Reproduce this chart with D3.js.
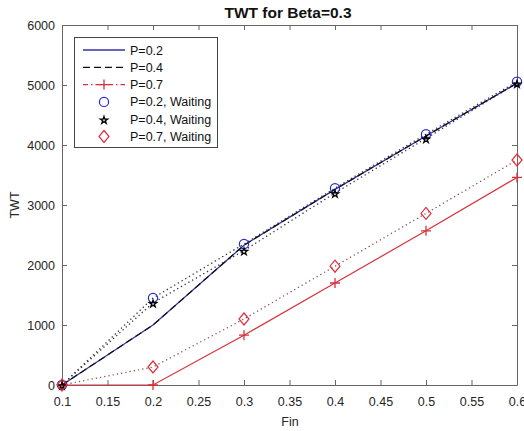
<!DOCTYPE html>
<html>
<head>
<meta charset="utf-8">
<script src="https://cdn.jsdelivr.net/npm/d3@7"></script>
<style>
body { margin: 0; background: #fff; }
text { font-family: "Liberation Sans", Arial, sans-serif; }
</style>
</head>
<body>
<svg></svg>
<script>
let fin = [0.1, 0.2, 0.3, 0.4, 0.5, 0.6]
let p02 = [0, 1000, 2330, 3260, 4150, 5030]
let p04 = [0, 1000, 2330, 3260, 4150, 5030]
let p07 = [0, 0, 830, 1700, 2570, 3460]
let p02wait = [0, 1450, 2350, 3280, 4180, 5055]
let p04wait = [0, 1370, 2240, 3200, 4110, 5030]
let p07wait = [0, 300, 1100, 1980, 2860, 3750]
let xTicks = [0.1, 0.15, 0.2, 0.25, 0.3, 0.35, 0.4, 0.45, 0.5, 0.55, 0.6]
let yTicks = [0, 1000, 2000, 3000, 4000, 5000, 6000]

let width = 524
let height = 431
let padLeft = 62, padRight = 517, padTop = 25, padBottom = 385

let svg = d3.select('svg').attr('width', width).attr('height', height)

let xScale = d3.scaleLinear().domain([0.1, 0.6]).range([padLeft, padRight])
let yScale = d3.scaleLinear().domain([0, 6000]).range([padBottom, padTop])

let axisColor = '#666'

// axes (box with inward ticks)
let fmtX = d => String(+d.toFixed(2))
let xAxis = d3.axisBottom(xScale).tickValues(xTicks).tickSizeInner(-5).tickSizeOuter(0).tickPadding(12).tickFormat(fmtX)
let xAxisTop = d3.axisTop(xScale).tickValues(xTicks).tickSizeInner(-5).tickSizeOuter(0).tickFormat('')
let yAxis = d3.axisLeft(yScale).tickValues(yTicks).tickSizeInner(-5).tickSizeOuter(0).tickPadding(7).tickFormat(d3.format('d'))
let yAxisRight = d3.axisRight(yScale).tickValues(yTicks).tickSizeInner(-5).tickSizeOuter(0).tickFormat('')

let styleAxis = g => {
    g.selectAll('path, line').attr('stroke', axisColor)
    g.selectAll('text').attr('fill', '#262626').style('font-size', '12.5px')
}
svg.append('g').attr('transform', 'translate(0,' + padBottom + ')').call(xAxis).call(styleAxis)
svg.append('g').attr('transform', 'translate(0,' + padTop + ')').call(xAxisTop).call(styleAxis)
svg.append('g').attr('transform', 'translate(' + padLeft + ',0)').call(yAxis).call(styleAxis)
svg.append('g').attr('transform', 'translate(' + padRight + ',0)').call(yAxisRight).call(styleAxis)

let line = d3.line().x((d, i) => xScale(fin[i])).y(d => yScale(d))

let plot = svg.append('g')

// dotted helper lines for waiting series
plot.append('path').attr('d', line(p02wait)).attr('fill', 'none').attr('stroke', '#333').attr('stroke-width', 1.3).attr('stroke-dasharray', '1.3,3')
plot.append('path').attr('d', line(p04wait)).attr('fill', 'none').attr('stroke', '#333').attr('stroke-width', 1.3).attr('stroke-dasharray', '1.3,3')
plot.append('path').attr('d', line(p07wait)).attr('fill', 'none').attr('stroke', '#8a4a4a').attr('stroke-width', 1.2).attr('stroke-dasharray', '1.3,3')

// main lines
plot.append('path').attr('d', line(p02)).attr('fill', 'none').attr('stroke', '#3333aa').attr('stroke-width', 1.3)
plot.append('path').attr('d', line(p04)).attr('fill', 'none').attr('stroke', '#111').attr('stroke-width', 1.2).attr('stroke-dasharray', '7,4')
plot.append('path').attr('d', line(p07)).attr('fill', 'none').attr('stroke', '#d8303a').attr('stroke-width', 1.2)

// markers
let drawPlus = (g, x, y, c) => {
    g.append('path').attr('d', 'M' + (x - 5) + ',' + y + 'H' + (x + 5) + 'M' + x + ',' + (y - 5) + 'V' + (y + 5))
        .attr('stroke', c).attr('stroke-width', 1.3).attr('fill', 'none')
}
let drawCircle = (g, x, y) => {
    g.append('circle').attr('cx', x).attr('cy', y).attr('r', 4.6).attr('fill', 'none').attr('stroke', '#2a2ac8').attr('stroke-width', 1.2)
}
let drawStar = (g, x, y) => {
    g.append('path').attr('d', d3.symbol().type(d3.symbolStar).size(16)()).attr('transform', 'translate(' + x + ',' + (y + 1) + ')')
        .attr('fill', 'none').attr('stroke', '#000').attr('stroke-width', 1.3)
}
let drawDiamond = (g, x, y) => {
    g.append('path').attr('d', 'M' + x + ',' + (y - 6) + 'L' + (x + 5) + ',' + y + 'L' + x + ',' + (y + 6) + 'L' + (x - 5) + ',' + y + 'Z')
        .attr('fill', 'none').attr('stroke', '#e03040').attr('stroke-width', 1.2)
}

p07.forEach((d, i) => drawPlus(plot, xScale(fin[i]), yScale(d), '#d8303a'))
p02wait.forEach((d, i) => drawCircle(plot, xScale(fin[i]), yScale(d)))
p04wait.forEach((d, i) => drawStar(plot, xScale(fin[i]), yScale(d)))
p07wait.forEach((d, i) => drawDiamond(plot, xScale(fin[i]), yScale(d)))

// title and labels
svg.append('text').attr('x', 288).attr('y', 18).attr('text-anchor', 'middle')
    .style('font-size', '15.5px').style('font-weight', 'bold').attr('fill', '#111').text('TWT for Beta=0.3')
svg.append('text').attr('x', 290).attr('y', 426).attr('text-anchor', 'middle')
    .style('font-size', '12.5px').attr('fill', '#262626').text('Fin')
svg.append('text').attr('transform', 'translate(19,' + 205 + ') rotate(-90)').attr('text-anchor', 'middle')
    .style('font-size', '12.5px').attr('fill', '#262626').text('TWT')

// legend
let legendNames = ['P=0.2', 'P=0.4', 'P=0.7', 'P=0.2, Waiting', 'P=0.4, Waiting', 'P=0.7, Waiting']
let legend = svg.append('g')
legend.append('rect').attr('x', 74.5).attr('y', 37.5).attr('width', 143).attr('height', 110)
    .attr('fill', '#fff').attr('stroke', '#444').attr('stroke-width', 1)
let rowY = i => 50 + i * 17.3
legendNames.forEach((name, i) => {
    legend.append('text').attr('x', 130).attr('y', rowY(i) + 4.5).style('font-size', '12.5px').attr('fill', '#111').text(name)
})
legend.append('line').attr('x1', 83).attr('x2', 125).attr('y1', rowY(0)).attr('y2', rowY(0)).attr('stroke', '#3333aa').attr('stroke-width', 1.3)
legend.append('line').attr('x1', 83).attr('x2', 125).attr('y1', rowY(1)).attr('y2', rowY(1)).attr('stroke', '#111').attr('stroke-width', 1.2).attr('stroke-dasharray', '7,4')
legend.append('line').attr('x1', 83).attr('x2', 125).attr('y1', rowY(2)).attr('y2', rowY(2)).attr('stroke', '#d8303a').attr('stroke-width', 1.2).attr('stroke-dasharray', '5,3,1.5,3')
drawPlus(legend, 104, rowY(2), '#d8303a')
drawCircle(legend, 104, rowY(3))
drawStar(legend, 104, rowY(4))
drawDiamond(legend, 104, rowY(5))
</script>
</body>
</html>
